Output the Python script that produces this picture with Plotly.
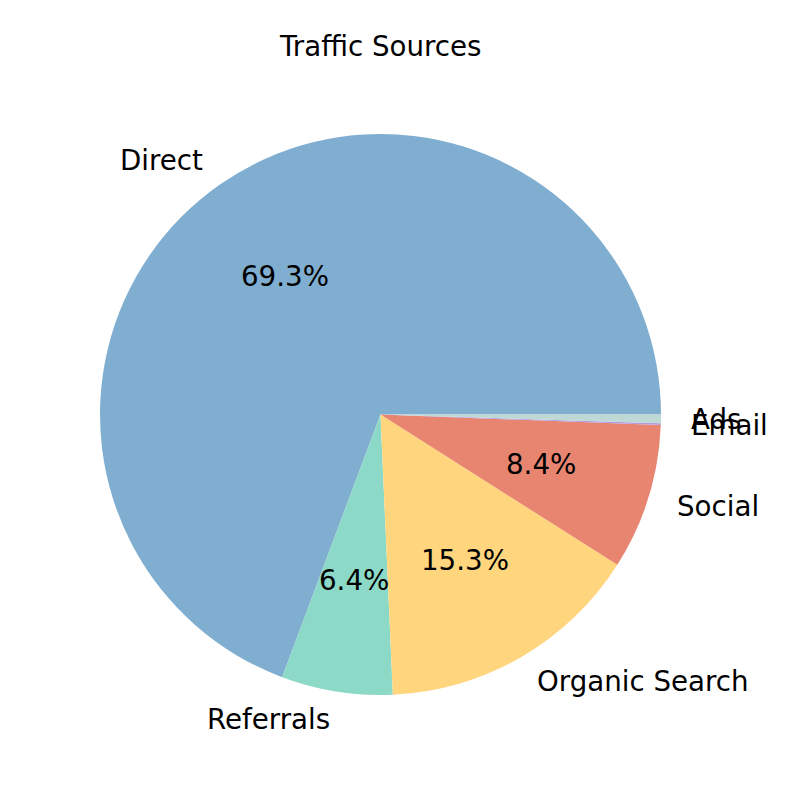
import math
import plotly.graph_objects as go

labels = ["Direct", "Referrals", "Organic Search", "Social", "Email", "Ads"]
values = [69.3, 6.4, 15.3, 8.4, 0.1, 0.5]
colors = ["#80AED1", "#8DD9C7", "#FFD67E", "#E88571", "#B49CE0", "#BED8D6"]
title = "Traffic Sources"

W, H = 800, 800
cx, cy, r = 380.5, 414.5, 280.5  # pie centre / radius in pixels
font = dict(family="DejaVu Sans", size=27.7, color="black")

total = sum(values)
# plotly (counterclockwise): rotation marks the boundary between slice 1 and 2;
# make the first slice start at 3 o'clock like matplotlib's default
rotation = 90 - 360 * values[0] / total

fig = go.Figure(go.Pie(
    labels=labels, values=values, sort=False,
    direction="counterclockwise", rotation=rotation,
    marker=dict(colors=colors, line=dict(width=0)),
    textinfo="none", hoverinfo="label+percent", showlegend=False,
    domain=dict(x=[(cx - r) / W, (cx + r) / W],
                y=[(H - cy - r) / H, (H - cy + r) / H]),
))

annotations = []
start = 0.0
for lab, v in zip(labels, values):
    frac = v / total
    mid = (start + frac / 2) * 2 * math.pi
    start += frac
    c, s = math.cos(mid), math.sin(mid)
    lx = cx + 1.1 * r * c
    ly = cy - 1.1 * r * s
    annotations.append(dict(
        x=lx / W, y=1 - ly / H, xref="paper", yref="paper",
        text=lab, showarrow=False, font=font,
        xanchor="left" if c > 0 else "right", yanchor="middle"))
    pct = 100 * frac
    if pct >= 1:
        px = cx + 0.6 * r * c
        py = cy - 0.6 * r * s
        annotations.append(dict(
            x=px / W, y=1 - py / H, xref="paper", yref="paper",
            text=f"{pct:.1f}%", showarrow=False, font=font,
            xanchor="center", yanchor="middle"))

annotations.append(dict(
    x=cx / W, y=1 - 46 / H, xref="paper", yref="paper",
    text=title, showarrow=False, font=font,
    xanchor="center", yanchor="middle"))

fig.update_layout(
    width=W, height=H,
    margin=dict(l=0, r=0, t=0, b=0),
    paper_bgcolor="white", plot_bgcolor="white",
    annotations=annotations,
)

fig.write_html("out.html", config={"displayModeBar": False},
               post_script="document.body.style.margin='0';")
